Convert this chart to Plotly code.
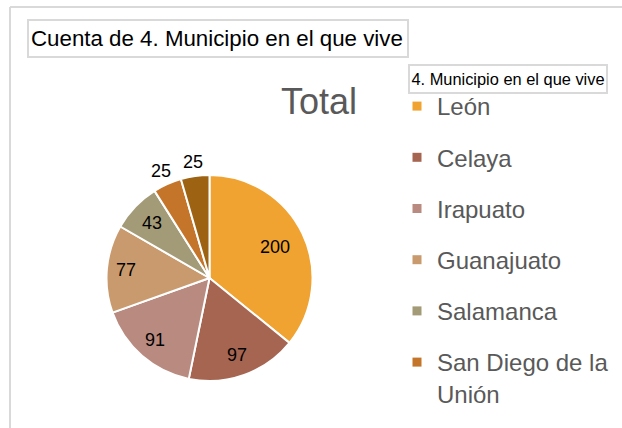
import math
import plotly.graph_objects as go

# ---- data ----
categories = ["León", "Celaya", "Irapuato", "Guanajuato", "Salamanca",
              "San Diego de la Unión", "Otro"]
counts = [200, 97, 91, 77, 43, 25, 25]
slice_colors = ["#F0A330", "#A66551", "#B98A80", "#C99A6E", "#A39A77",
                "#C47529", "#9E6213"]
legend_labels = ["León", "Celaya", "Irapuato", "Guanajuato", "Salamanca",
                 "San Diego de la<br>Unión"]

chart_title = "Cuenta de 4. Municipio en el que vive"
legend_title = "4. Municipio en el que vive"
series_title = "Total"

# ---- style ----
W, H = 622, 428
FONT = "Liberation Sans, Arial, sans-serif"
GREY_TXT = "#595959"
FRAME = "#D9D9D9"
CX, CY, R = 209.5, 278.0, 103.0          # pie centre / radius in px
LABEL_RADIUS = [0.70, 0.79, 0.80, 0.81, 0.77, 1.14, 1.14]  # fraction of R

fig = go.Figure()

fig.add_trace(go.Pie(
    labels=categories,
    values=counts,
    sort=False,
    direction="clockwise",
    rotation=0,
    marker=dict(colors=slice_colors, line=dict(color="white", width=2)),
    textinfo="none",
    showlegend=False,
    domain=dict(x=[(CX - R) / W, (CX + R) / W],
                y=[1 - (CY + R) / H, 1 - (CY - R) / H]),
))

# data labels, positioned at each slice's mid-angle (computed from the data)
annotations = []
total = sum(counts)
cum = 0
for v, frac in zip(counts, LABEL_RADIUS):
    mid = (cum + v / 2) / total * 2 * math.pi
    cum += v
    rr = R * frac
    px = CX + rr * math.sin(mid)
    py = CY - rr * math.cos(mid)
    annotations.append(dict(
        text=str(v), xref="paper", yref="paper", x=px / W, y=1 - py / H,
        xanchor="center", yanchor="middle", showarrow=False,
        font=dict(family=FONT, size=18, color="black")))

# legend entries (the legend in the original is cut off after the 6th entry)
for name, col in zip(legend_labels, slice_colors):
    fig.add_trace(go.Scatter(
        x=[None], y=[None], mode="markers", name=name,
        legendgroup=name,
        marker=dict(symbol="square", size=9, color=col),
    ))

annotations += [
    dict(text=chart_title, xref="paper", yref="paper",
         x=27 / W, xanchor="left", y=1 - 19 / H, yanchor="top",
         showarrow=False, align="left", width=374, height=31,
         bordercolor=FRAME, borderwidth=2, borderpad=2,
         font=dict(family=FONT, size=22.3, color="black")),
    dict(text=legend_title, xref="paper", yref="paper",
         x=408 / W, xanchor="left", y=1 - 64 / H, yanchor="top",
         showarrow=False, align="center", width=196, height=26,
         bordercolor=FRAME, borderwidth=2, borderpad=0,
         font=dict(family=FONT, size=16.4, color="black")),
]

fig.update_layout(
    width=W, height=H,
    margin=dict(l=0, r=0, t=0, b=0),
    paper_bgcolor="white", plot_bgcolor="white",
    font=dict(family=FONT, color=GREY_TXT),
    xaxis=dict(visible=False), yaxis=dict(visible=False),
    title=dict(text=series_title, x=319 / W, xanchor="center",
               y=1 - 101 / H, yanchor="middle",
               font=dict(family=FONT, size=36, color=GREY_TXT)),
    legend=dict(
        x=397 / W, xanchor="left", y=1 - 84 / H, yanchor="top",
        font=dict(family=FONT, size=24, color=GREY_TXT),
        traceorder="grouped", tracegroupgap=17, valign="top",
        itemwidth=30, bgcolor="rgba(0,0,0,0)",
    ),
    shapes=[
        dict(type="line", xref="paper", yref="paper",
             x0=10 / W, x1=1, y0=1 - 7 / H, y1=1 - 7 / H,
             line=dict(color=FRAME, width=2)),
        dict(type="line", xref="paper", yref="paper",
             x0=10 / W, x1=10 / W, y0=1 - 7 / H, y1=0,
             line=dict(color=FRAME, width=2)),
    ],
    annotations=annotations,
)

fig.write_html("out.html",
               config={"displayModeBar": False},
               post_script="document.body.style.margin='0';"
                           "document.body.style.overflow='hidden';")
